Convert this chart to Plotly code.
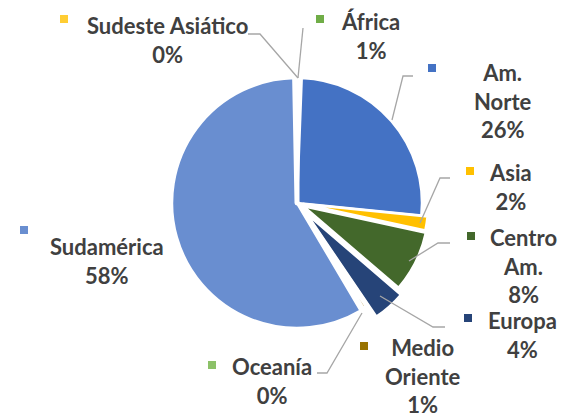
import math
import plotly.graph_objects as go

W, H = 569, 417
OFF = 8  # page body margin of the browser
FW, FH = W - OFF, H - OFF

# ---- data ----
regions = ["África", "Am. Norte", "Asia", "Centro Am.", "Europa",
           "Medio Oriente", "Oceanía", "Sudamérica", "Sudeste Asiático"]
label_lines = ["África", "Am.<br>Norte", "Asia", "Centro<br>Am.", "Europa",
               "Medio<br>Oriente", "Oceanía", "Sudamérica", "Sudeste Asiático"]
shares = [0.6, 26.0, 1.8, 7.9, 4.2, 0.7, 0.3, 58.2, 0.3]
colors = ["#70AD47", "#4472C4", "#FFC000", "#43682B", "#264478",
          "#997300", "#8CC168", "#698ED0", "#FFCD33"]
pulls = [0, 0, 0.05, 0.06, 0.11, 0, 0, 0, 0]

total = sum(shares)
pct_text = [f"{math.floor(v / total * 100 + 0.5)}%" for v in shares]
border_w = [5 if v < 1 else 2.5 for v in shares]

# ---- layout helpers (screen pixel -> paper) ----
def px(x):
    return (x - OFF) / FW

def py(y):
    return 1 - (y - OFF) / FH

cx, cy, r = 297, 203, 125
box = 2 * r * (1 + max(pulls))

fig = go.Figure(go.Pie(
    labels=regions, values=shares, sort=False, direction="clockwise",
    rotation=0, pull=pulls, textinfo="none", hoverinfo="label+percent",
    marker=dict(colors=colors, line=dict(color="white", width=border_w)),
    domain=dict(x=[px(cx - box / 2), px(cx + box / 2)],
                y=[py(cy + box / 2), py(cy - box / 2)]),
))

# label block centres and legend-key positions (screen pixels)
label_pos = {
    "África": (370, 36), "Am. Norte": (503, 101), "Asia": (510, 187),
    "Centro Am.": (523, 266), "Europa": (522, 335), "Medio Oriente": (422, 376),
    "Oceanía": (272, 381), "Sudamérica": (107, 261), "Sudeste Asiático": (167, 40),
}
key_pos = {
    "África": (320, 19), "Am. Norte": (432, 68), "Asia": (470, 171),
    "Centro Am.": (471, 236), "Europa": (468, 318), "Medio Oriente": (364, 346),
    "Oceanía": (212, 365), "Sudamérica": (24, 230), "Sudeste Asiático": (64, 19),
}
leaders = {
    "Sudeste Asiático": [(248, 34), (260, 34), (298, 78)],
    "África": [(298, 78), (303, 28)],
    "Am. Norte": [(392, 120), (403, 76), (413, 76)],
    "Asia": [(420, 223), (440, 178), (450, 178)],
    "Centro Am.": [(409, 261), (438, 243), (450, 243)],
    "Europa": [(380, 296), (433, 327), (445, 327)],
    "Oceanía": [(362, 313), (327, 373), (317, 373)],
}

shapes = []
annotations = []
for name, lines, pct, col in zip(regions, label_lines, pct_text, colors):
    x, y = label_pos[name]
    annotations.append(dict(
        x=px(x), y=py(y), xref="paper", yref="paper", xanchor="center",
        yanchor="middle", showarrow=False, align="center",
        text=f"<b>{lines}<br>{pct}</b>",
        font=dict(family="Lato", size=22, color="#404040"),
    ))
    kx, ky = key_pos[name]
    shapes.append(dict(type="rect", xref="paper", yref="paper",
                       x0=px(kx - 4), x1=px(kx + 4), y0=py(ky + 4), y1=py(ky - 4),
                       fillcolor=col, line=dict(width=0)))

for name, pts in leaders.items():
    path = "M " + " L ".join(f"{px(x):.5f},{py(y):.5f}" for x, y in pts)
    shapes.append(dict(type="path", xref="paper", yref="paper", path=path,
                       line=dict(color="#A6A6A6", width=1.3)))

fig.update_layout(
    width=FW, height=FH, margin=dict(l=0, r=0, t=0, b=0),
    paper_bgcolor="white", plot_bgcolor="white", showlegend=False,
    shapes=shapes, annotations=annotations,
)

fig.write_html("out.html")
